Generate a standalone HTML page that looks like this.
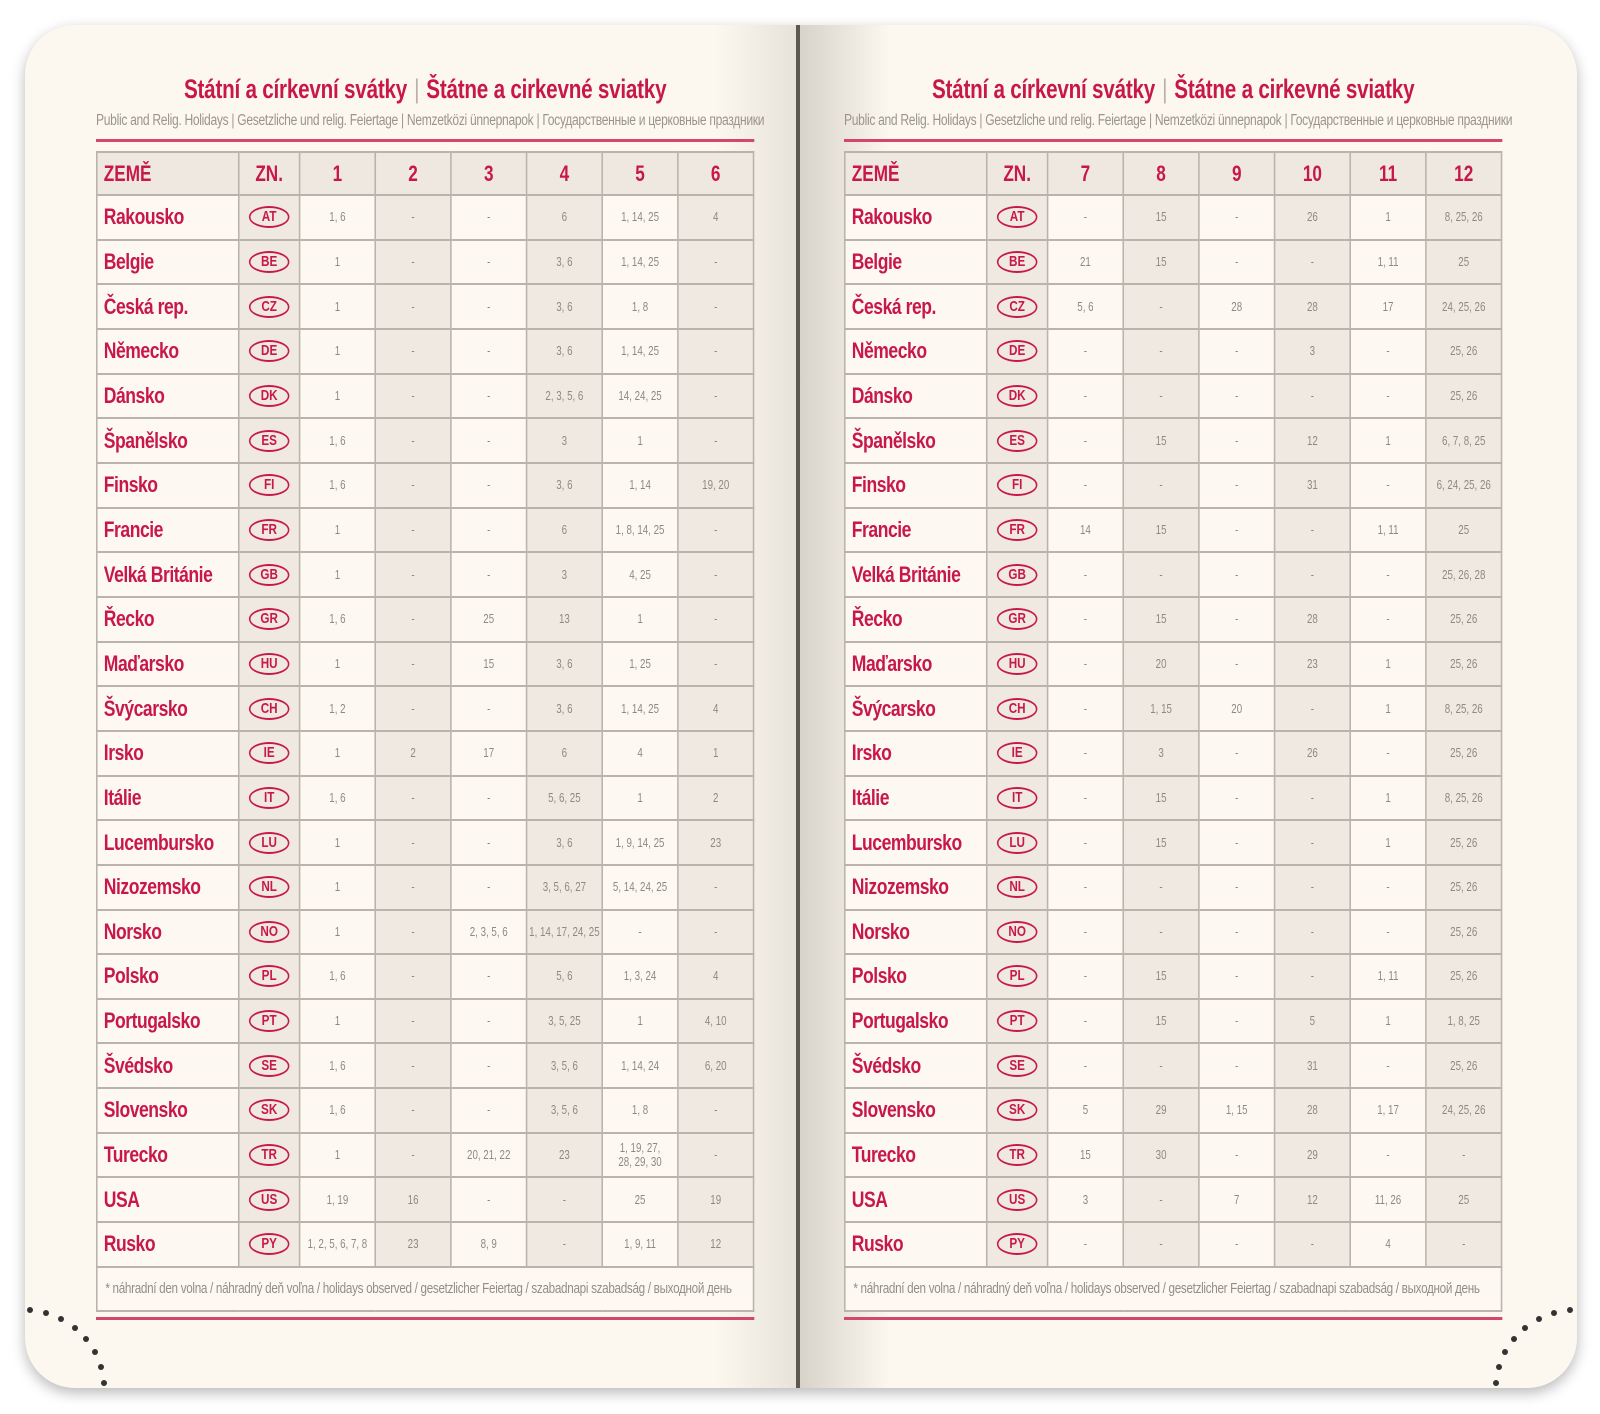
<!DOCTYPE html>
<html><head><meta charset="utf-8">
<style>
*{margin:0;padding:0;box-sizing:border-box}
body{width:1600px;height:1414px;background:#fff;position:relative;overflow:hidden;font-family:"Liberation Sans","DejaVu Sans",sans-serif}
.book{position:absolute;left:25px;top:25px;width:1552px;height:1363px;border-radius:50px;background:#fcf8ef;box-shadow:0 5px 14px rgba(0,0,0,.28);overflow:hidden}
.lsh{position:absolute;left:690px;top:0;width:83px;height:100%;background:linear-gradient(to right,rgba(0,0,0,0),rgba(80,70,60,.12))}
.spine{position:absolute;left:771px;top:0;width:4px;height:100%;background:#5d5852}
.rsh{position:absolute;left:775px;top:0;width:90px;height:100%;background:linear-gradient(to right,rgba(90,80,70,.22),rgba(0,0,0,0))}
.pg{position:absolute;top:0;width:844px;transform:scaleX(.78);transform-origin:0 0}
.title{position:absolute;top:74px;left:0;width:844px;text-align:center;color:#c8184a;font-size:26.5px;font-weight:bold;white-space:nowrap;letter-spacing:-.3px}
.title b{font-weight:normal;color:#b9b0a8;margin:0 2px}
.sub{position:absolute;top:112px;left:0;width:844px;text-align:center;color:#9a948d;font-size:15.5px;white-space:nowrap;letter-spacing:-.4px}
.rl{position:absolute;left:0;width:844px;height:3px;background:#d4476c}
table{position:absolute;top:151px;left:0;width:844px;border-collapse:collapse;table-layout:fixed}
td{border:2px solid #b9b3ab;text-align:center;color:#8f8983;font-size:12.5px;background:#fdf9f2;line-height:14px}
tr.h td{background:#eee8e1;color:#c8184a;font-size:22px;font-weight:bold;height:43px}
tr.h td:first-child{text-align:left;padding-left:8px}
tr.r td{height:44.67px}
td.c{text-align:left;padding-left:8px;color:#c8184a;font-size:22.5px;font-weight:bold;letter-spacing:-.6px;line-height:24px}
td.z,td.s{background:#efe9e2}
tr.h td.z{background:#eee8e1}
.bd{display:inline-block;width:52px;height:22px;border:2px solid #c8184a;border-radius:50%;color:#c8184a;font-size:15px;font-weight:bold;line-height:18px}
td.f{text-align:left;padding-left:10px;height:44px;font-size:15px;color:#938d87;letter-spacing:-.4px}
.dot{position:absolute;width:6px;height:6px;border-radius:50%;background:#333}
</style></head><body>
<div class="book">
<div class="lsh"></div><div class="spine"></div><div class="rsh"></div>
</div>

<div class="pg" style="left:96px">
<div class="title">Státní a církevní svátky <b>|</b> Štátne a cirkevné sviatky</div>
<div class="sub">Public and Relig. Holidays | Gesetzliche und relig. Feiertage | Nemzetközi ünnepnapok | Государственные и церковные праздники</div>
<div class="rl" style="top:139px"></div>
<table>
<colgroup><col style="width:182px"><col style="width:78px"><col><col><col><col><col><col></colgroup>
<tr class="h"><td>ZEMĚ</td><td class="z">ZN.</td><td>1</td><td class="s">2</td><td>3</td><td class="s">4</td><td>5</td><td class="s">6</td></tr>
<tr class="r"><td class="c">Rakousko</td><td class="z"><span class="bd">AT</span></td><td>1, 6</td><td class="s">-</td><td>-</td><td class="s">6</td><td>1, 14, 25</td><td class="s">4</td></tr>
<tr class="r"><td class="c">Belgie</td><td class="z"><span class="bd">BE</span></td><td>1</td><td class="s">-</td><td>-</td><td class="s">3, 6</td><td>1, 14, 25</td><td class="s">-</td></tr>
<tr class="r"><td class="c">Česká rep.</td><td class="z"><span class="bd">CZ</span></td><td>1</td><td class="s">-</td><td>-</td><td class="s">3, 6</td><td>1, 8</td><td class="s">-</td></tr>
<tr class="r"><td class="c">Německo</td><td class="z"><span class="bd">DE</span></td><td>1</td><td class="s">-</td><td>-</td><td class="s">3, 6</td><td>1, 14, 25</td><td class="s">-</td></tr>
<tr class="r"><td class="c">Dánsko</td><td class="z"><span class="bd">DK</span></td><td>1</td><td class="s">-</td><td>-</td><td class="s">2, 3, 5, 6</td><td>14, 24, 25</td><td class="s">-</td></tr>
<tr class="r"><td class="c">Španělsko</td><td class="z"><span class="bd">ES</span></td><td>1, 6</td><td class="s">-</td><td>-</td><td class="s">3</td><td>1</td><td class="s">-</td></tr>
<tr class="r"><td class="c">Finsko</td><td class="z"><span class="bd">FI</span></td><td>1, 6</td><td class="s">-</td><td>-</td><td class="s">3, 6</td><td>1, 14</td><td class="s">19, 20</td></tr>
<tr class="r"><td class="c">Francie</td><td class="z"><span class="bd">FR</span></td><td>1</td><td class="s">-</td><td>-</td><td class="s">6</td><td>1, 8, 14, 25</td><td class="s">-</td></tr>
<tr class="r"><td class="c">Velká Británie</td><td class="z"><span class="bd">GB</span></td><td>1</td><td class="s">-</td><td>-</td><td class="s">3</td><td>4, 25</td><td class="s">-</td></tr>
<tr class="r"><td class="c">Řecko</td><td class="z"><span class="bd">GR</span></td><td>1, 6</td><td class="s">-</td><td>25</td><td class="s">13</td><td>1</td><td class="s">-</td></tr>
<tr class="r"><td class="c">Maďarsko</td><td class="z"><span class="bd">HU</span></td><td>1</td><td class="s">-</td><td>15</td><td class="s">3, 6</td><td>1, 25</td><td class="s">-</td></tr>
<tr class="r"><td class="c">Švýcarsko</td><td class="z"><span class="bd">CH</span></td><td>1, 2</td><td class="s">-</td><td>-</td><td class="s">3, 6</td><td>1, 14, 25</td><td class="s">4</td></tr>
<tr class="r"><td class="c">Irsko</td><td class="z"><span class="bd">IE</span></td><td>1</td><td class="s">2</td><td>17</td><td class="s">6</td><td>4</td><td class="s">1</td></tr>
<tr class="r"><td class="c">Itálie</td><td class="z"><span class="bd">IT</span></td><td>1, 6</td><td class="s">-</td><td>-</td><td class="s">5, 6, 25</td><td>1</td><td class="s">2</td></tr>
<tr class="r"><td class="c">Lucembursko</td><td class="z"><span class="bd">LU</span></td><td>1</td><td class="s">-</td><td>-</td><td class="s">3, 6</td><td>1, 9, 14, 25</td><td class="s">23</td></tr>
<tr class="r"><td class="c">Nizozemsko</td><td class="z"><span class="bd">NL</span></td><td>1</td><td class="s">-</td><td>-</td><td class="s">3, 5, 6, 27</td><td>5, 14, 24, 25</td><td class="s">-</td></tr>
<tr class="r"><td class="c">Norsko</td><td class="z"><span class="bd">NO</span></td><td>1</td><td class="s">-</td><td>2, 3, 5, 6</td><td class="s">1, 14, 17, 24, 25</td><td>-</td><td class="s">-</td></tr>
<tr class="r"><td class="c">Polsko</td><td class="z"><span class="bd">PL</span></td><td>1, 6</td><td class="s">-</td><td>-</td><td class="s">5, 6</td><td>1, 3, 24</td><td class="s">4</td></tr>
<tr class="r"><td class="c">Portugalsko</td><td class="z"><span class="bd">PT</span></td><td>1</td><td class="s">-</td><td>-</td><td class="s">3, 5, 25</td><td>1</td><td class="s">4, 10</td></tr>
<tr class="r"><td class="c">Švédsko</td><td class="z"><span class="bd">SE</span></td><td>1, 6</td><td class="s">-</td><td>-</td><td class="s">3, 5, 6</td><td>1, 14, 24</td><td class="s">6, 20</td></tr>
<tr class="r"><td class="c">Slovensko</td><td class="z"><span class="bd">SK</span></td><td>1, 6</td><td class="s">-</td><td>-</td><td class="s">3, 5, 6</td><td>1, 8</td><td class="s">-</td></tr>
<tr class="r"><td class="c">Turecko</td><td class="z"><span class="bd">TR</span></td><td>1</td><td class="s">-</td><td>20, 21, 22</td><td class="s">23</td><td>1, 19, 27,<br>28, 29, 30</td><td class="s">-</td></tr>
<tr class="r"><td class="c">USA</td><td class="z"><span class="bd">US</span></td><td>1, 19</td><td class="s">16</td><td>-</td><td class="s">-</td><td>25</td><td class="s">19</td></tr>
<tr class="r"><td class="c">Rusko</td><td class="z"><span class="bd">PY</span></td><td>1, 2, 5, 6, 7, 8</td><td class="s">23</td><td>8, 9</td><td class="s">-</td><td>1, 9, 11</td><td class="s">12</td></tr>
<tr><td class="f" colspan="8">* náhradní den volna / náhradný deň voľna / holidays observed / gesetzlicher Feiertag / szabadnapi szabadság / выходной день</td></tr>
</table>
<div class="rl" style="top:1317px"></div>
</div>

<div class="pg" style="left:844px">
<div class="title">Státní a církevní svátky <b>|</b> Štátne a cirkevné sviatky</div>
<div class="sub">Public and Relig. Holidays | Gesetzliche und relig. Feiertage | Nemzetközi ünnepnapok | Государственные и церковные праздники</div>
<div class="rl" style="top:139px"></div>
<table>
<colgroup><col style="width:182px"><col style="width:78px"><col><col><col><col><col><col></colgroup>
<tr class="h"><td>ZEMĚ</td><td class="z">ZN.</td><td>7</td><td class="s">8</td><td>9</td><td class="s">10</td><td>11</td><td class="s">12</td></tr>
<tr class="r"><td class="c">Rakousko</td><td class="z"><span class="bd">AT</span></td><td>-</td><td class="s">15</td><td>-</td><td class="s">26</td><td>1</td><td class="s">8, 25, 26</td></tr>
<tr class="r"><td class="c">Belgie</td><td class="z"><span class="bd">BE</span></td><td>21</td><td class="s">15</td><td>-</td><td class="s">-</td><td>1, 11</td><td class="s">25</td></tr>
<tr class="r"><td class="c">Česká rep.</td><td class="z"><span class="bd">CZ</span></td><td>5, 6</td><td class="s">-</td><td>28</td><td class="s">28</td><td>17</td><td class="s">24, 25, 26</td></tr>
<tr class="r"><td class="c">Německo</td><td class="z"><span class="bd">DE</span></td><td>-</td><td class="s">-</td><td>-</td><td class="s">3</td><td>-</td><td class="s">25, 26</td></tr>
<tr class="r"><td class="c">Dánsko</td><td class="z"><span class="bd">DK</span></td><td>-</td><td class="s">-</td><td>-</td><td class="s">-</td><td>-</td><td class="s">25, 26</td></tr>
<tr class="r"><td class="c">Španělsko</td><td class="z"><span class="bd">ES</span></td><td>-</td><td class="s">15</td><td>-</td><td class="s">12</td><td>1</td><td class="s">6, 7, 8, 25</td></tr>
<tr class="r"><td class="c">Finsko</td><td class="z"><span class="bd">FI</span></td><td>-</td><td class="s">-</td><td>-</td><td class="s">31</td><td>-</td><td class="s">6, 24, 25, 26</td></tr>
<tr class="r"><td class="c">Francie</td><td class="z"><span class="bd">FR</span></td><td>14</td><td class="s">15</td><td>-</td><td class="s">-</td><td>1, 11</td><td class="s">25</td></tr>
<tr class="r"><td class="c">Velká Británie</td><td class="z"><span class="bd">GB</span></td><td>-</td><td class="s">-</td><td>-</td><td class="s">-</td><td>-</td><td class="s">25, 26, 28</td></tr>
<tr class="r"><td class="c">Řecko</td><td class="z"><span class="bd">GR</span></td><td>-</td><td class="s">15</td><td>-</td><td class="s">28</td><td>-</td><td class="s">25, 26</td></tr>
<tr class="r"><td class="c">Maďarsko</td><td class="z"><span class="bd">HU</span></td><td>-</td><td class="s">20</td><td>-</td><td class="s">23</td><td>1</td><td class="s">25, 26</td></tr>
<tr class="r"><td class="c">Švýcarsko</td><td class="z"><span class="bd">CH</span></td><td>-</td><td class="s">1, 15</td><td>20</td><td class="s">-</td><td>1</td><td class="s">8, 25, 26</td></tr>
<tr class="r"><td class="c">Irsko</td><td class="z"><span class="bd">IE</span></td><td>-</td><td class="s">3</td><td>-</td><td class="s">26</td><td>-</td><td class="s">25, 26</td></tr>
<tr class="r"><td class="c">Itálie</td><td class="z"><span class="bd">IT</span></td><td>-</td><td class="s">15</td><td>-</td><td class="s">-</td><td>1</td><td class="s">8, 25, 26</td></tr>
<tr class="r"><td class="c">Lucembursko</td><td class="z"><span class="bd">LU</span></td><td>-</td><td class="s">15</td><td>-</td><td class="s">-</td><td>1</td><td class="s">25, 26</td></tr>
<tr class="r"><td class="c">Nizozemsko</td><td class="z"><span class="bd">NL</span></td><td>-</td><td class="s">-</td><td>-</td><td class="s">-</td><td>-</td><td class="s">25, 26</td></tr>
<tr class="r"><td class="c">Norsko</td><td class="z"><span class="bd">NO</span></td><td>-</td><td class="s">-</td><td>-</td><td class="s">-</td><td>-</td><td class="s">25, 26</td></tr>
<tr class="r"><td class="c">Polsko</td><td class="z"><span class="bd">PL</span></td><td>-</td><td class="s">15</td><td>-</td><td class="s">-</td><td>1, 11</td><td class="s">25, 26</td></tr>
<tr class="r"><td class="c">Portugalsko</td><td class="z"><span class="bd">PT</span></td><td>-</td><td class="s">15</td><td>-</td><td class="s">5</td><td>1</td><td class="s">1, 8, 25</td></tr>
<tr class="r"><td class="c">Švédsko</td><td class="z"><span class="bd">SE</span></td><td>-</td><td class="s">-</td><td>-</td><td class="s">31</td><td>-</td><td class="s">25, 26</td></tr>
<tr class="r"><td class="c">Slovensko</td><td class="z"><span class="bd">SK</span></td><td>5</td><td class="s">29</td><td>1, 15</td><td class="s">28</td><td>1, 17</td><td class="s">24, 25, 26</td></tr>
<tr class="r"><td class="c">Turecko</td><td class="z"><span class="bd">TR</span></td><td>15</td><td class="s">30</td><td>-</td><td class="s">29</td><td>-</td><td class="s">-</td></tr>
<tr class="r"><td class="c">USA</td><td class="z"><span class="bd">US</span></td><td>3</td><td class="s">-</td><td>7</td><td class="s">12</td><td>11, 26</td><td class="s">25</td></tr>
<tr class="r"><td class="c">Rusko</td><td class="z"><span class="bd">PY</span></td><td>-</td><td class="s">-</td><td>-</td><td class="s">-</td><td>4</td><td class="s">-</td></tr>
<tr><td class="f" colspan="8">* náhradní den volna / náhradný deň voľna / holidays observed / gesetzlicher Feiertag / szabadnapi szabadság / выходной день</td></tr>
</table>
<div class="rl" style="top:1317px"></div>
</div>

<div class="dot" style="left:27px;top:1307px"></div>
<div class="dot" style="left:43px;top:1310px"></div>
<div class="dot" style="left:58px;top:1316px"></div>
<div class="dot" style="left:72px;top:1325px"></div>
<div class="dot" style="left:83px;top:1336px"></div>
<div class="dot" style="left:92px;top:1349px"></div>
<div class="dot" style="left:98px;top:1364px"></div>
<div class="dot" style="left:101px;top:1380px"></div>
<div class="dot" style="left:1567px;top:1307px"></div>
<div class="dot" style="left:1551px;top:1310px"></div>
<div class="dot" style="left:1536px;top:1316px"></div>
<div class="dot" style="left:1522px;top:1325px"></div>
<div class="dot" style="left:1511px;top:1336px"></div>
<div class="dot" style="left:1502px;top:1349px"></div>
<div class="dot" style="left:1496px;top:1364px"></div>
<div class="dot" style="left:1493px;top:1380px"></div>
</body></html>
